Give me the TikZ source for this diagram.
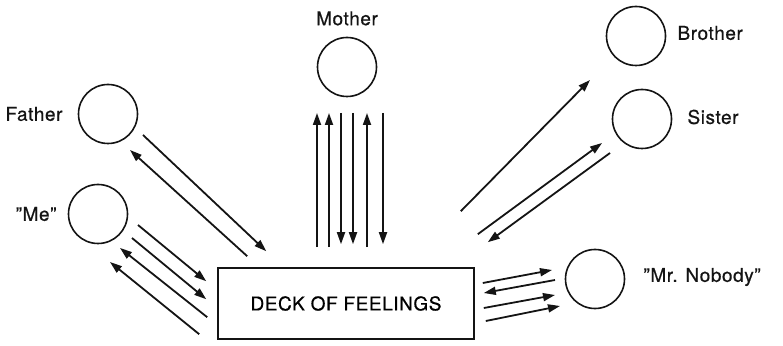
\documentclass[tikz,border=0pt]{standalone}
\usepackage{fontspec}
\setmainfont{TeX Gyre Heros}[FakeBold=0.6,LetterSpace=3]
\usetikzlibrary{positioning,arrows.meta,calc}
\definecolor{ink}{RGB}{20,20,20}

\begin{document}
\begin{tikzpicture}[
  x=1pt,y=1pt,
  font=\fontsize{19}{21}\selectfont,
  >={Triangle[length=12pt,width=8pt]},
  person/.style={draw=ink,circle,line width=1.6pt,minimum size=59pt,inner sep=0pt},
  who/.style={text=ink,inner sep=0pt},
  deckbox/.style={draw=ink,line width=1.6pt,minimum width=256pt,minimum height=71pt,inner sep=0pt},
  feel/.style={->,ink,line width=1.8pt},
]
\useasboundingbox (0,0) rectangle (783,345);
% ---- deck and persons ----
\node[deckbox] (deck) at (346,41.5) {DECK OF FEELINGS};
\node[person] (father)  at (108,231) {};
\node[person] (me)      at (98,131)  {};
\node[person] (mother)  at (347,278) {};
\node[person] (brother) at (636,309) {};
\node[person] (sister)  at (642,226) {};
\node[person] (nobody)  at (595,66)  {};
% labels
\node[who,left=15pt of father]    (fatherlbl)  {Father};
\node[who,left=11pt of me]        (melbl)      {''Me''};
\node[who,above=11pt of mother]   (motherlbl)  {Mother};
\node[who,right=11pt of brother,yshift=3pt] (brotherlbl) {Brother};
\node[who,right=15pt of sister,yshift=2pt]  (sisterlbl)  {Sister};
\node[who,right=18pt of nobody,yshift=2pt]  (nobodylbl)  {''Mr. Nobody''};
% ---- father ----
\draw[feel] ($(father)+(35,-21)$) -- ($(deck.north west)+(49,16)$);
\draw[feel] ($(deck.north west)+(30,11)$) -- ($(father)+(22,-36)$);
% ---- me ----
\draw[feel] ($(me)+(40,-11)$) -- ($(deck.north west)+(-11,-14)$);
\draw[feel] ($(me)+(34,-24)$) -- ($(deck.north west)+(-11,-32)$);
\draw[feel] ($(deck.north west)+(-10,-50)$) -- ($(me)+(22,-34)$);
\draw[feel] ($(deck.north west)+(-18,-67)$) -- ($(me)+(12,-48)$);
% ---- mother ----
\draw[feel] ($(deck.north)+(-29,20)$) -- ($(mother)+(-30,-46)$);
\draw[feel] ($(deck.north)+(-17,20)$) -- ($(mother)+(-18,-46)$);
\draw[feel] ($(mother)+(-6,-46)$) -- ($(deck.north)+(-5,23)$);
\draw[feel] ($(mother)+(6,-46)$)  -- ($(deck.north)+(7,23)$);
\draw[feel] ($(deck.north)+(21,20)$) -- ($(mother)+(20,-46)$);
\draw[feel] ($(mother)+(36,-46)$) -- ($(deck.north)+(37,23)$);
% ---- brother and sister ----
\draw[feel] ($(deck.north east)+(-14,56)$) -- ($(brother)+(-46,-44)$);
\draw[feel] ($(deck.north east)+(3,33)$) -- ($(sister)+(-40,-24)$);
\draw[feel] ($(sister)+(-32,-34)$) -- ($(deck.north east)+(13,25)$);
% ---- mr. nobody ----
\draw[feel] ($(deck.east)+(8,20.5)$) -- ($(nobody)+(-43,9)$);
\draw[feel] ($(nobody)+(-40,-1)$) -- ($(deck.east)+(9,10.5)$);
\draw[feel] ($(deck.east)+(9,-4.5)$) -- ($(nobody)+(-40,-16)$);
\draw[feel] ($(deck.east)+(11,-17.5)$) -- ($(nobody)+(-35,-27)$);
\end{tikzpicture}
\end{document}
